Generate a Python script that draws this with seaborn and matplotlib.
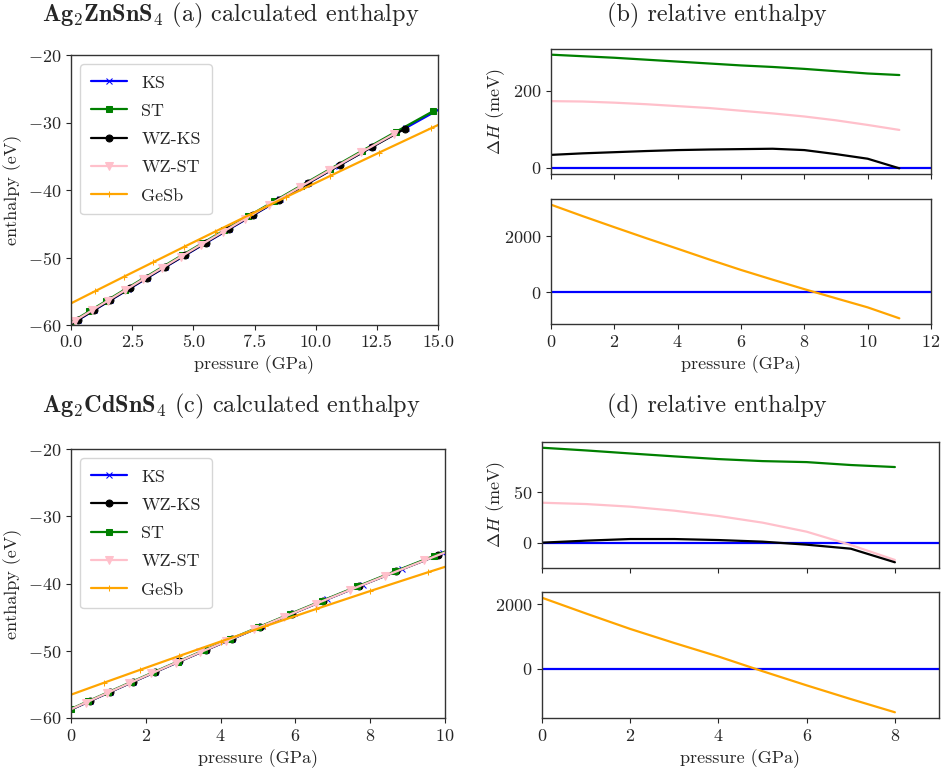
import matplotlib
matplotlib.use("Agg")
import matplotlib.pyplot as plt
import seaborn as sns

# ---- Ag2ZnSnS4 : enthalpy vs pressure ----
zn_ks_p = [-0.35, 0.3, 0.95, 1.6, 2.35, 3.1, 3.85, 4.65, 5.5, 6.45, 7.45, 8.55, 9.7, 10.95, 12.3, 13.7, 15.2]
zn_ks_h = [-60.69, -59.24, -57.80, -56.36, -54.71, -53.06, -51.43, -49.70, -47.87, -45.83, -43.71, -41.39, -38.98, -36.39, -33.61, -30.77, -27.75]
zn_st_p = [0.0, 0.75, 1.45, 2.2, 2.95, 3.75, 4.55, 5.35, 6.25, 7.25, 8.3, 9.4, 10.6, 11.9, 13.3, 14.8]
zn_st_h = [-59.62, -57.95, -56.40, -54.75, -53.11, -51.37, -49.64, -47.92, -45.99, -43.87, -41.66, -39.36, -36.87, -34.19, -31.34, -28.32]
zn_wzks_p = [-0.3, 0.3, 0.95, 1.6, 2.4, 3.1, 3.85, 4.65, 5.5, 6.45, 7.45, 8.5, 9.7, 11.0, 12.3, 13.65]
zn_wzks_h = [-60.55, -59.21, -57.76, -56.32, -54.56, -53.02, -51.39, -49.65, -47.82, -45.78, -43.66, -41.45, -38.95, -36.28, -33.64, -30.92]
zn_wzst_p = [-0.2, 0.15, 0.85, 1.5, 2.2, 2.95, 3.7, 4.5, 5.3, 6.2, 7.1, 8.1, 9.35, 10.55, 11.85, 13.2]
zn_wzst_h = [-60.18, -59.40, -57.85, -56.41, -54.87, -53.22, -51.60, -49.86, -48.14, -46.22, -44.31, -42.20, -39.59, -37.10, -34.44, -31.71]
zn_gesb_p = [-0.5, 1.0, 2.15, 3.35, 4.6, 5.9, 7.3, 8.8, 10.6, 12.6, 14.7, 16.9]
zn_gesb_h = [-57.71, -54.96, -52.87, -50.71, -48.46, -46.15, -43.67, -41.03, -37.90, -34.45, -30.88, -27.17]

# relative enthalpy (meV) on 1 GPa grid
zn_rel_p = [0, 1, 2, 3, 4, 5, 6, 7, 8, 9, 10, 11]
zn_rel_st = [294, 290, 286, 281, 276, 271, 266, 262, 257, 251, 245, 241]
zn_rel_wzst = [173, 172, 169, 165, 160, 155, 148, 141, 133, 123, 111, 98]
zn_rel_wzks = [33, 37, 40, 43, 45.5, 47, 48, 49, 45.5, 35, 23, -2]
zn_rel_gesb = [3124, 2715, 2320, 1930, 1550, 1165, 793, 445, 107, -220, -544, -935]

# ---- Ag2CdSnS4 ----
cd_ks_p = [-0.3, 0.5, 1.05, 1.65, 2.25, 2.9, 3.6, 4.3, 5.1, 5.95, 6.85, 7.8, 8.85, 9.95, 11.1]
cd_ks_h = [-59.50, -57.49, -56.12, -54.64, -53.17, -51.59, -49.91, -48.25, -46.37, -44.39, -42.33, -40.18, -37.85, -35.44, -32.97]
cd_wzks_p = [-0.3, 0.5, 1.05, 1.65, 2.25, 2.9, 3.6, 4.3, 5.05, 5.9, 6.75, 7.7, 8.7, 9.8]
cd_wzks_h = [-59.50, -57.49, -56.12, -54.64, -53.17, -51.59, -49.91, -48.25, -46.48, -44.51, -42.56, -40.42, -38.21, -35.82]
cd_st_p = [0.0, 0.45, 1.0, 1.6, 2.2, 2.85, 3.55, 4.25, 5.0, 5.85, 6.7, 7.65, 8.65, 9.7, 10.8]
cd_st_h = [-58.65, -57.52, -56.15, -54.67, -53.20, -51.63, -49.95, -48.28, -46.52, -44.54, -42.59, -40.44, -38.21, -35.91, -33.54]
cd_wzst_p = [-0.2, 0.4, 0.95, 1.55, 2.15, 2.8, 3.45, 4.15, 4.9, 5.7, 6.55, 7.45, 8.4, 9.45, 10.5]
cd_wzst_h = [-59.20, -57.70, -56.33, -54.85, -53.38, -51.80, -50.24, -48.58, -46.81, -44.96, -43.01, -40.98, -38.86, -36.57, -34.31]
cd_gesb_p = [-0.4, 0.87, 1.85, 2.9, 4.0, 5.2, 6.55, 8.0, 9.55, 11.2]
cd_gesb_h = [-57.34, -54.78, -52.83, -50.76, -48.63, -46.34, -43.80, -41.12, -38.32, -35.41]

cd_rel_p = [0, 1, 2, 3, 4, 5, 6, 7, 8]
cd_rel_st = [94.4, 91.7, 88.7, 85.8, 83.1, 81.1, 80.1, 77.2, 75.2]
cd_rel_wzst = [39.7, 38.4, 35.8, 31.8, 26.5, 19.9, 10.9, -2.3, -17.2]
cd_rel_wzks = [0, 2, 3.6, 3.6, 2.6, 1, -2, -6, -19.5]
cd_rel_gesb = [2206, 1715, 1237, 800, 381, -75, -515, -940, -1350]

# ---- style ----
sns.set_style("ticks")
plt.rcParams.update({
    "font.family": ["serif"],
    "font.serif": ["cmr10"],
    "mathtext.fontset": "cm",
    "axes.formatter.use_mathtext": True,
    "axes.unicode_minus": True,
    "font.size": 13,
    "axes.labelsize": 13,
    "xtick.labelsize": 13,
    "ytick.labelsize": 13,
    "axes.edgecolor": "#333333",
    "axes.linewidth": 1.0,
    "xtick.direction": "out",
    "ytick.direction": "out",
})

W, H = 941, 771
fig = plt.figure(figsize=(W / 100, H / 100), dpi=100)


def box(x0, y0, x1, y1):
    return [x0 / W, 1 - y1 / H, (x1 - x0) / W, (y1 - y0) / H]


ax_a = fig.add_axes(box(71, 55, 438, 325))
ax_b1 = fig.add_axes(box(551, 49, 931, 174))
ax_b2 = fig.add_axes(box(551, 199, 931, 324), sharex=ax_b1)
ax_c = fig.add_axes(box(71, 449, 445, 718))
ax_d1 = fig.add_axes(box(542, 442, 939, 568))
ax_d2 = fig.add_axes(box(542, 592, 939, 718), sharex=ax_d1)

styles = {
    "KS": dict(color="blue", marker="x", markersize=4),
    "ST": dict(color="green", marker="s", markersize=5),
    "WZ-KS": dict(color="black", marker="o", markersize=5),
    "WZ-ST": dict(color="pink", marker="v", markersize=6),
    "GeSb": dict(color="orange", marker="+", markersize=5),
}


def enthalpy_panel(ax, series, xmax, xticks):
    for name, p, h in series:
        st = styles[name]
        sns.lineplot(x=p, y=h, ax=ax, label=name, color=st["color"], marker=st["marker"],
                     markersize=st["markersize"], markeredgecolor=st["color"], linewidth=1.6,
                     sort=False)
    ax.set_xlim(0, xmax)
    ax.set_ylim(-60, -20)
    ax.set_xticks(xticks)
    ax.set_yticks([-60, -50, -40, -30, -20])
    ax.set_xlabel("pressure (GPa)")
    ax.set_ylabel("enthalpy (eV)")
    ax.legend(loc="upper left", fontsize=13, handlelength=2.0, borderpad=0.6,
              labelspacing=0.7, framealpha=0.8, edgecolor="#cccccc")


enthalpy_panel(ax_a, [("KS", zn_ks_p, zn_ks_h), ("ST", zn_st_p, zn_st_h),
                      ("WZ-KS", zn_wzks_p, zn_wzks_h), ("WZ-ST", zn_wzst_p, zn_wzst_h),
                      ("GeSb", zn_gesb_p, zn_gesb_h)],
               15, [0, 2.5, 5, 7.5, 10, 12.5, 15])
ax_a.xaxis.set_major_formatter(matplotlib.ticker.FormatStrFormatter("%.1f"))

enthalpy_panel(ax_c, [("KS", cd_ks_p, cd_ks_h), ("WZ-KS", cd_wzks_p, cd_wzks_h),
                      ("ST", cd_st_p, cd_st_h), ("WZ-ST", cd_wzst_p, cd_wzst_h),
                      ("GeSb", cd_gesb_p, cd_gesb_h)],
               10, [0, 2, 4, 6, 8, 10])


def relative_panel(ax1, ax2, p, st, wzst, wzks, gesb, xmax, yticks_top, yticks_bot):
    ax1.axhline(0, color="blue", linewidth=1.6)
    sns.lineplot(x=p, y=st, ax=ax1, color="green", linewidth=1.6)
    sns.lineplot(x=p, y=wzst, ax=ax1, color="pink", linewidth=1.6)
    sns.lineplot(x=p, y=wzks, ax=ax1, color="black", linewidth=1.6)
    ax2.axhline(0, color="blue", linewidth=1.6)
    sns.lineplot(x=p, y=gesb, ax=ax2, color="orange", linewidth=1.6)
    ax1.set_xlim(0, xmax)
    ax1.set_yticks(yticks_top)
    ax2.set_yticks(yticks_bot)
    ax1.tick_params(labelbottom=False)
    ax1.set_ylabel(r"$\Delta H$ (meV)")
    ax2.set_xlabel("pressure (GPa)")


relative_panel(ax_b1, ax_b2, zn_rel_p, zn_rel_st, zn_rel_wzst, zn_rel_wzks, zn_rel_gesb,
               12, [0, 200], [0, 2000])
ax_b2.set_xticks([0, 2, 4, 6, 8, 10, 12])
relative_panel(ax_d1, ax_d2, cd_rel_p, cd_rel_st, cd_rel_wzst, cd_rel_wzks, cd_rel_gesb,
               9, [0, 50], [0, 2000])
ax_d2.set_xticks([0, 2, 4, 6, 8])

# panel titles
fig.text(231 / W, 1 - 15 / H, r"$\mathbf{Ag}_\mathbf{2}\mathbf{ZnSnS}_\mathbf{4}$ (a) calculated enthalpy",
         ha="center", va="center", fontsize=17.5)
fig.text(717 / W, 1 - 15 / H, "(b) relative enthalpy", ha="center", va="center", fontsize=17.5)
fig.text(231 / W, 1 - 406 / H, r"$\mathbf{Ag}_\mathbf{2}\mathbf{CdSnS}_\mathbf{4}$ (c) calculated enthalpy",
         ha="center", va="center", fontsize=17.5)
fig.text(717 / W, 1 - 406 / H, "(d) relative enthalpy", ha="center", va="center", fontsize=17.5)

fig.savefig("out.png", dpi=100)
